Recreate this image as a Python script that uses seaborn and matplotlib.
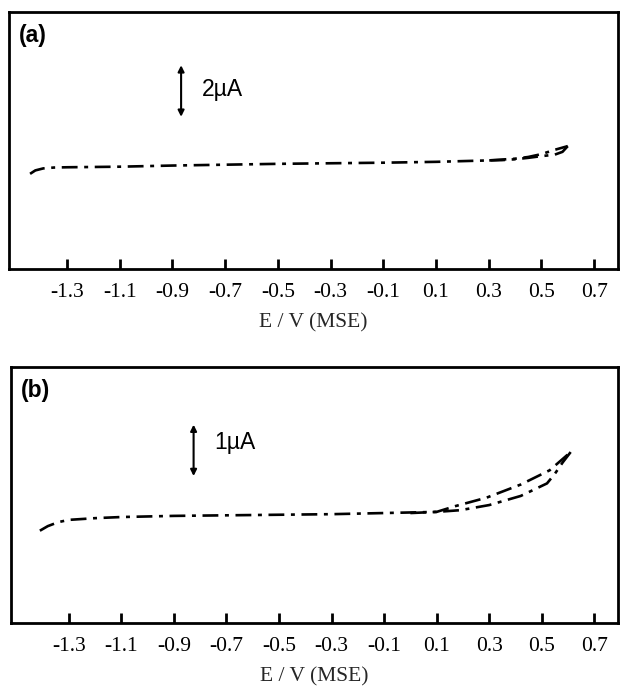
import numpy as np
import pandas as pd
import seaborn as sns
import matplotlib.pyplot as plt

# panel (a) - current in uA
a_fwd_E = [-1.44, -1.42, -1.39, -1.35, -1.3, -1.1, -0.9, -0.7, -0.5, -0.3, -0.1, 0.1, 0.3, 0.4, 0.45, 0.5, 0.55, 0.6]
a_fwd_i = [3.33, 3.45, 3.52, 3.55, 3.56, 3.58, 3.62, 3.65, 3.68, 3.70, 3.72, 3.75, 3.80, 3.86, 3.92, 4.02, 4.17, 4.30]
a_rev_E = [0.6, 0.58, 0.55, 0.5, 0.45, 0.4, 0.35, 0.3]
a_rev_i = [4.30, 4.10, 4.00, 3.95, 3.89, 3.84, 3.81, 3.80]

# panel (b)
b_fwd_E = [-1.41, -1.38, -1.34, -1.3, -1.2, -1.1, -0.9, -0.7, -0.5, -0.3, -0.1, 0.1, 0.17, 0.29, 0.42, 0.53, 0.61]
b_fwd_i = [1.62, 1.70, 1.77, 1.81, 1.84, 1.86, 1.88, 1.89, 1.90, 1.91, 1.93, 1.95, 2.05, 2.20, 2.43, 2.68, 3.00]
b_rev_E = [0.61, 0.58, 0.55, 0.52, 0.42, 0.30, 0.19, 0.1, 0.0]
b_rev_i = [3.00, 2.82, 2.62, 2.45, 2.23, 2.07, 1.98, 1.95, 1.93]

ticks = [-1.3, -1.1, -0.9, -0.7, -0.5, -0.3, -0.1, 0.1, 0.3, 0.5, 0.7]
tick_labels = ['-1.3', '-1.1', '-0.9', '-0.7', '-0.5', '-0.3', '-0.1', '0.1', '0.3', '0.5', '0.7']

sns.set_style('white')
plt.rcParams['font.family'] = ['Liberation Sans', 'DejaVu Sans']
plt.rcParams['text.color'] = 'black'
plt.rcParams['xtick.color'] = 'black'

fig = plt.figure(figsize=(6.2, 6.86), dpi=100)
ax_a = fig.add_axes([0.0145, 0.608, 0.982, 0.3746])
ax_b = fig.add_axes([0.0177, 0.0918, 0.979, 0.373])

dash = (0, (6, 2.5, 1.5, 2.5))

panels = [
    (ax_a, a_fwd_E, a_fwd_i, a_rev_E, a_rev_i, 9.0, '(a)', '2\u00b5A', -0.867, 5.23, 7.23, -0.79, 6.28),
    (ax_b, b_fwd_E, b_fwd_i, b_rev_E, b_rev_i, 4.49, '(b)', '1\u00b5A', -0.825, 2.53, 3.53, -0.745, 3.16),
]

for ax, fE, fi, rE, ri, ytop, lab, bar, bx, by0, by1, tx, ty in panels:
    fwd = pd.DataFrame({'E': fE, 'i': fi})
    rev = pd.DataFrame({'E': rE, 'i': ri})
    sns.lineplot(data=fwd, x='E', y='i', ax=ax, color='black', lw=1.9, sort=False, estimator=None)
    sns.lineplot(data=rev, x='E', y='i', ax=ax, color='black', lw=1.9, sort=False, estimator=None)
    for ln in ax.get_lines():
        ln.set_linestyle(dash)
    ax.set_xlim(-1.52, 0.79)
    ax.set_ylim(0, ytop)
    ax.set_yticks([])
    ax.set_ylabel('')
    ax.set_xticks(ticks)
    ax.set_xticklabels(tick_labels, family='Liberation Serif', fontsize=15.5)
    ax.tick_params(axis='x', direction='in', length=7, width=2, bottom=True, pad=10, color='black')
    ax.set_xlabel('E / V (MSE)', family='Liberation Serif', fontsize=15.5, labelpad=8)
    for s in ax.spines.values():
        s.set_visible(True)
        s.set_color('black')
        s.set_linewidth(2)
    ax.text(0.016, 0.91, lab, transform=ax.transAxes, fontsize=16.5, fontweight='bold', va='center')
    ax.annotate('', xy=(bx, by1), xytext=(bx, by0),
                arrowprops=dict(arrowstyle='<|-|>', color='black', lw=1.5, mutation_scale=9))
    ax.text(tx, ty, bar, fontsize=16.5, va='center')

fig.savefig('out.png', dpi=100)
